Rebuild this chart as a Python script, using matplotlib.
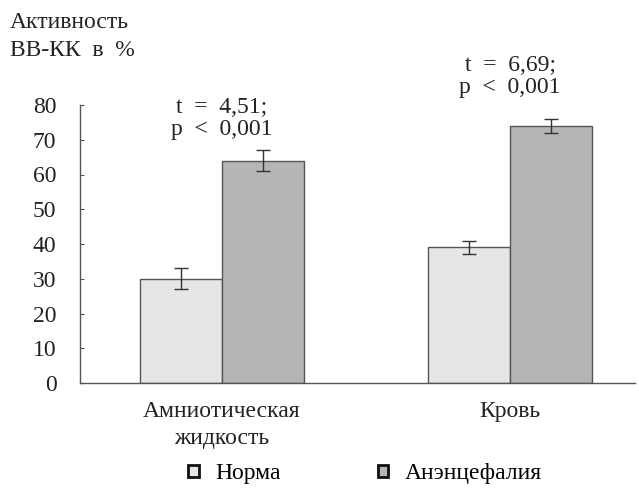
import matplotlib
matplotlib.use("Agg")
import matplotlib.pyplot as plt
import numpy as np

plt.rcParams['font.family'] = ['Liberation Serif', 'DejaVu Serif']

categories = ["Амниотическая\nжидкость", "Кровь"]
series_names = ["Норма", "Анэнцефалия"]
norma = [30, 39]
norma_err = [3, 2]
anen = [64, 74]
anen_err = [3, 2]
stats = ["t  =  4,51;\np  <  0,001", "t  =  6,69;\np  <  0,001"]
yticks = [0, 10, 20, 30, 40, 50, 60, 70, 80]

W, H = 639, 488
FS = 17
fig = plt.figure(figsize=(W / 100, H / 100), dpi=100)
ax = fig.add_axes([80 / W, 1 - 383 / H, 555 / W, (383 - 105) / H])

x = np.arange(len(categories))
bw = 0.285
err_kw = dict(ecolor="#333333", elinewidth=1, capthick=1)
b1 = ax.bar(x - bw / 2, norma, bw, yerr=norma_err, capsize=5,
            color="#e6e6e6", edgecolor="#555555", linewidth=1, error_kw=err_kw,
            label=series_names[0])
b2 = ax.bar(x + bw / 2, anen, bw, yerr=anen_err, capsize=5,
            color="#b5b5b5", edgecolor="#555555", linewidth=1, error_kw=err_kw,
            label=series_names[1])

ax.set_xlim(-0.493, 1.434)
ax.set_ylim(0, 80)
ax.set_yticks(yticks)
ax.tick_params(axis="y", direction="in", length=3, width=0.8, colors="#555555",
               labelcolor="#222222", labelsize=FS, pad=17)
ax.set_xticks(x)
ax.set_xticklabels(categories, fontsize=FS, color="#222222", linespacing=1.4)
ax.tick_params(axis="x", length=0, pad=13)
for s in ["top", "right"]:
    ax.spines[s].set_visible(False)
for s in ["left", "bottom"]:
    ax.spines[s].set_color("#555555")
    ax.spines[s].set_linewidth(1)

# t / p annotations above each pair
stat_y = [76.1, 88.3]
for xi, txt, yy in zip(x, stats, stat_y):
    ax.text(xi, yy, txt, ha="center", va="center", fontsize=FS,
            color="#222222", linespacing=1.05, clip_on=False)

fig.text(10 / W, 1 - 23 / H, "Активность", fontsize=FS, color="#222222",
         va="center", ha="left")
fig.text(10 / W, 1 - 50 / H, "ВВ-КК  в  %", fontsize=FS, color="#222222",
         va="center", ha="left")

leg = fig.legend(handles=[b1, b2], labels=series_names, loc="center",
                 bbox_to_anchor=(365 / W, 1 - 474 / H), ncol=2, frameon=False,
                 fontsize=FS, handlelength=0.45, handleheight=0.45,
                 columnspacing=4.1, handletextpad=0.7, borderpad=0.1)
for h in leg.legend_handles:
    h.set_edgecolor("#111111")
    h.set_linewidth(2)

fig.savefig("out.png", dpi=100)
